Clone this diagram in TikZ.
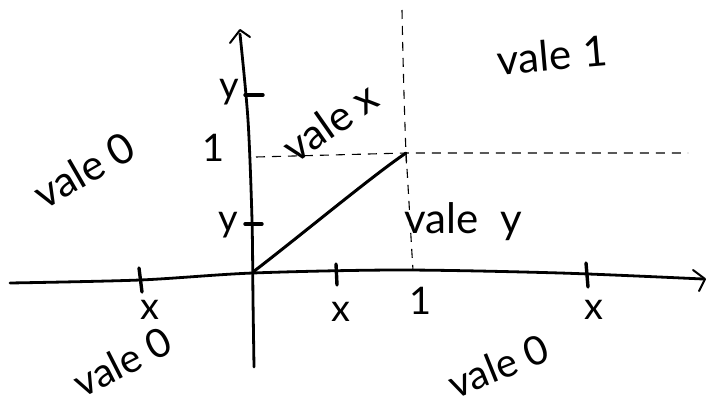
\documentclass[tikz,border=0pt]{standalone}
\usepackage{fontspec}
\setmainfont{Lato}
\begin{document}
\begin{tikzpicture}[x=1pt,y=-1pt,
  axis/.style={line width=2.8pt, line cap=round, line join=round},
  tickmark/.style={line width=3.4pt, line cap=round},
  guide/.style={line width=1.1pt, dash pattern=on 9pt off 7pt},
  head/.style={line width=2pt, line cap=round, line join=round},
  graphline/.style={line width=3pt, line cap=round},
  biglbl/.style={font=\fontsize{42}{44}\selectfont, inner sep=0pt},
  lowlbl/.style={font=\fontsize{40}{42}\selectfont, inner sep=0pt},
  lbl/.style={font=\fontsize{38}{40}\selectfont, inner sep=0pt}]
\useasboundingbox (0,0) rectangle (708,406);

% key points
\coordinate (O) at (253,272);
\coordinate (P) at (406,153);

% horizontal axis with arrow
\draw[axis] plot[smooth] coordinates {(10,283) (140,280) (253,273) (400,270) (560,273) (703,279)};
\draw[head] (693,270) -- (705,279) -- (699,291);

% vertical axis with arrow
\draw[axis] plot[smooth] coordinates {(240,34) (248,120) (252,220) (253,300) (254,367)};
\draw[head] (230,43) -- (240,30) -- (250,37);

% dashed guides
\draw[guide] (256,157) -- (P) -- (688,153);
\draw[guide] (402,10) .. controls (404,120) and (408,200) .. (P);
\draw[guide] (P) .. controls (409,200) and (411,240) .. (413,270);

% graph
\draw[graphline] (O) .. controls (300,236) and (372,176) .. (P);

% ticks
\draw[tickmark] (245,95) -- (263,95);
\draw[tickmark] (245,224) -- (262,224);
\draw[tickmark] (139,268) -- (142,292);
\draw[tickmark] (336,264) -- (337,285);
\draw[tickmark] (586,263) -- (588,287);

% axis labels
\node[lbl] (ly1) at (229,92) {y};
\node[lbl] (l1y) at (214,148) {1};
\node[lbl] (ly2) at (228,225) {y};
\node[lbl] (lx1) at (150,310) {x};
\node[lbl] (lx2) at (341,312) {x};
\node[lbl] (l1x) at (421,301) {1};
\node[lbl] (lx3) at (594,310) {x};

% region labels
\node[biglbl, rotate=5] (v1) at (552,55) {vale\hspace{12pt}1};
\node[biglbl, rotate=35] (vx) at (330,122) {vale x};
\node[biglbl, rotate=30] (v0a) at (84,170) {vale 0};
\node[biglbl] (vy) at (463,222) {vale\hspace{22pt}y};
\node[lowlbl, rotate=27] (v0b) at (122,362) {vale 0};
\node[lowlbl, rotate=22] (v0c) at (498,366) {vale 0};
\end{tikzpicture}
\end{document}
